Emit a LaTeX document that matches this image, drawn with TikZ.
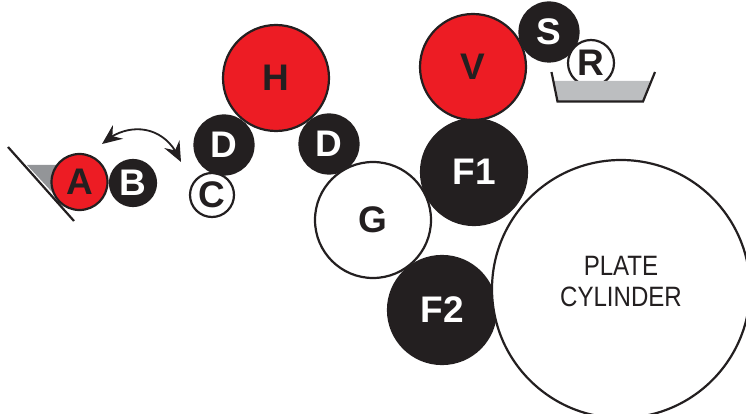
\documentclass[tikz,border=0pt]{standalone}
\usepackage{fontspec}
\setmainfont{Liberation Sans}
\usetikzlibrary{arrows.meta,bending}
\definecolor{rred}{HTML}{ED1C24}
\definecolor{rblack}{HTML}{231F20}
\definecolor{rgray}{HTML}{BCBEC0}
\definecolor{wgray}{HTML}{939598}
\tikzset{
 roll/.style={circle,draw=rblack,line width=2.2pt,inner sep=0pt,font=\bfseries\fontsize{#1}{#1}\selectfont},
 redroll/.style 2 args={roll=#2,fill=rred,text=rblack,minimum size=#1*2pt},
 blackroll/.style 2 args={roll=#2,fill=rblack,text=white,minimum size=#1*2pt},
 whiteroll/.style 2 args={roll=#2,fill=white,text=rblack,minimum size=#1*2pt},
 edgeline/.style={draw=rblack,line width=2.2pt},
 swing/.style={draw=rblack,line width=1.8pt,{Stealth[length=20pt,width=17pt,inset=7pt,flex]}-{Stealth[length=20pt,width=17pt,inset=7pt,flex]}}
}
\begin{document}
\begin{tikzpicture}[x=1pt,y=-1pt]
\useasboundingbox[fill=white] (0,0) rectangle (746,414);
% left trough
\fill[wgray] (27,165) -- (60,165) -- (56,196) -- (52,192) -- cycle;
\coordinate (wa) at (8,147);
\coordinate (wb) at (74,221);
\draw[edgeline] (wa) -- (wb);
\node[redroll={28}{37}] (A) at (79.5,182) {A};
\node[blackroll={23}{37}] (B) at (133,183) {B};
\node[whiteroll={22}{37}] (C) at (212,195) {C};
\node[redroll={53}{37}] (H) at (276,78) {\raisebox{-3pt}{H}};
\node[blackroll={29.5}{37}] (D1) at (224,145) {D};
\node[blackroll={29.5}{37}] (D2) at (329,144) {D};
\node[whiteroll={58}{37}] (G) at (373,220) {G};
\node[blackroll={53}{37}] (F1) at (474,172) {F1};
\node[blackroll={54}{37}] (F2) at (442,310) {F2};
\node[whiteroll={129}{37},align=center] (P) at (621,289) {\raisebox{15pt}{\fontsize{28}{34}\mdseries\selectfont\shortstack{\scalebox{.86}[1]{PLATE}\\[8pt]\scalebox{.86}[1]{CYLINDER}}}};
\node[redroll={53}{37}] (V) at (473,67) {V};
\node[blackroll={29.5}{37}] (S) at (549,32) {S};
\node[whiteroll={23}{37}] (R) at (591,63) {R};
% ink tray
\fill[rgray] (554,81) -- (650,81) -- (643,101) -- (558,101) -- cycle;
\coordinate (ta) at (551.5,72);
\coordinate (tb) at (557.5,101.5);
\coordinate (tc) at (643,101.5);
\coordinate (td) at (655,72);
\draw[edgeline] (ta) -- (tb) -- (tc) -- (td);
% swing arrow
\coordinate (sa) at (102,144);
\coordinate (sb) at (181,162);
\draw[swing] (sa) .. controls (125,122) and (165,122) .. (sb);
\end{tikzpicture}
\end{document}
